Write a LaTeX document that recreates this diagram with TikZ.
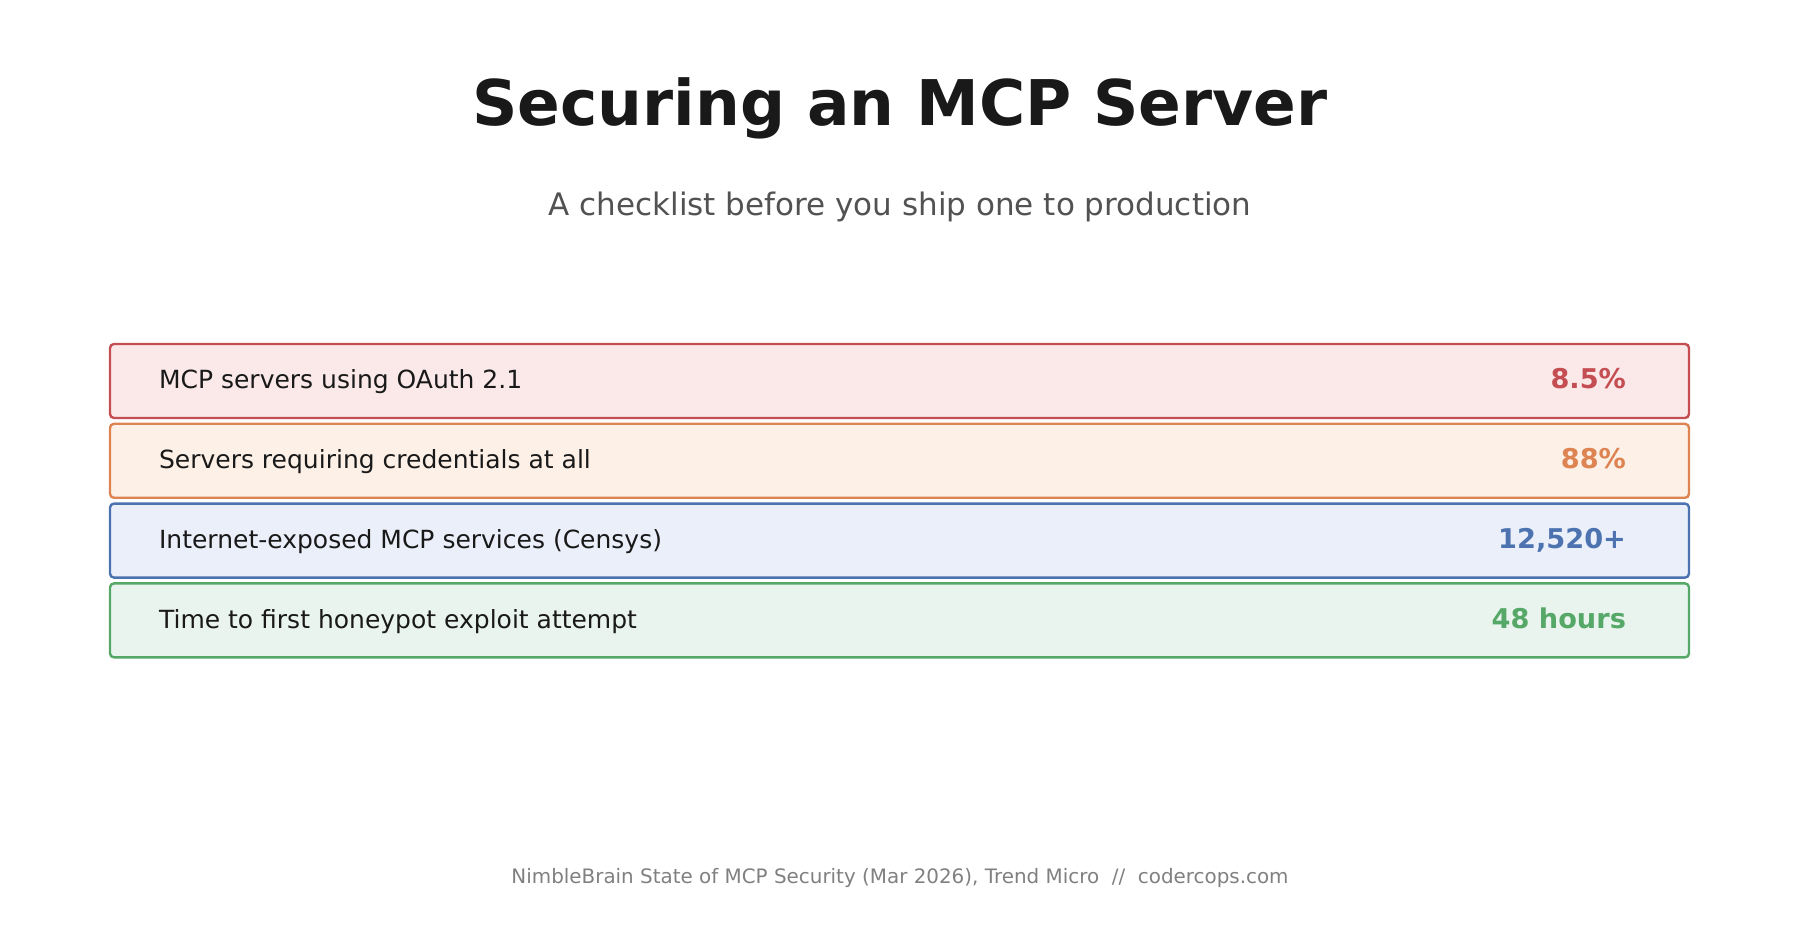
\documentclass[tikz,border=0pt]{standalone}
\usepackage{fontspec}
\setmainfont{DejaVu Sans}
\usetikzlibrary{positioning}
\definecolor{redline}{HTML}{C44E52}\definecolor{redfill}{HTML}{FBE9E9}
\definecolor{orangeline}{HTML}{DD8452}\definecolor{orangefill}{HTML}{FCF0E7}
\definecolor{blueline}{HTML}{4C72B0}\definecolor{bluefill}{HTML}{EAEFF9}
\definecolor{greenline}{HTML}{55A868}\definecolor{greenfill}{HTML}{EAF4EE}
\begin{document}
\begin{tikzpicture}[x=0.5pt, y=-0.5pt,
      row/.style={draw=#1line, fill=#1fill, line width=1.2pt, rounded corners=2pt},
      label/.style={anchor=mid west, font=\fontsize{12.5}{15}\selectfont, text=black!90},
      value/.style={anchor=mid east, font=\fontsize{13.6}{16}\selectfont\bfseries, text=#1line}]
      \useasboundingbox (0,0) rectangle (1800,945);

      \node (title) at (900,108) {\fontsize{31.5}{38}\selectfont\bfseries\color{black!90}Securing an MCP Server};
      \node (subtitle) at (900,207) {\fontsize{15.5}{19}\selectfont\color{black!68}A checklist before you ship one to production};

      \foreach \i/\c/\txt/\val in {0/red/MCP servers using OAuth 2.1/8.5\%,
        1/orange/Servers requiring credentials at all/88\%,
        2/blue/Internet-exposed MCP services (Censys)/{12,520+},
        3/green/Time to first honeypot exploit attempt/48 hours} {
        \draw[row=\c] (110,344+79.8*\i) rectangle (1689,418+79.8*\i);
        \node[label] (label\i) at (152,383.5+79.8*\i) {\txt};
        \node[value=\c] (value\i) at (1633,383.5+79.8*\i) {\val};
      };

      \node (footer) at (900,878) {\fontsize{9.95}{12}\selectfont\color{black!50}NimbleBrain State of MCP Security (Mar 2026), Trend Micro~~//~~codercops.com};
    \end{tikzpicture}
\end{document}
